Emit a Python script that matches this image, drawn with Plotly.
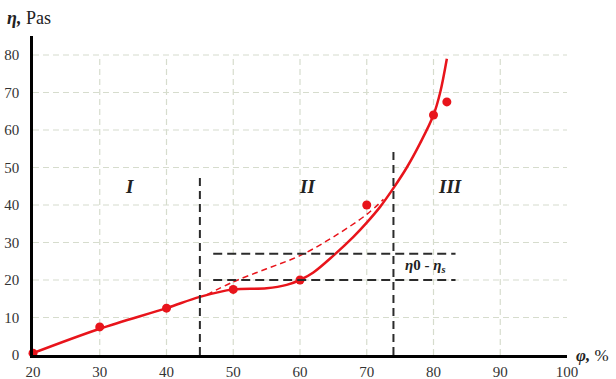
import plotly.graph_objects as go

# measured points
phi_pts = [20, 30, 40, 50, 60, 70, 80, 82]
eta_pts = [0.5, 7.5, 12.5, 17.5, 20, 40, 64, 67.5]

# solid fitted curve
curve_phi = [20, 30, 40, 45, 50, 55, 58, 60, 62, 65, 68, 70, 72, 74, 76, 78, 80, 81, 82]
curve_eta = [0.5, 7, 12.5, 15.5, 17.5, 17.8, 18.7, 20, 22, 26.5, 31.5, 35.3, 39.5, 44.5, 50, 56.5, 64, 70, 79]

# dashed extrapolation
dash_phi = [46, 50, 55, 60, 65, 70, 72.5]
dash_eta = [16, 19.5, 23, 26.5, 31.5, 37.5, 41.5]

# region boundaries and levels
bound_phi = [45, 74]
bound_top = [48, 55]
level_eta = [20, 27]
level_phi = [47, 83.3]

x_ticks = [20, 30, 40, 50, 60, 70, 80, 90, 100]
y_ticks = [0, 10, 20, 30, 40, 50, 60, 70, 80]

region_labels = ["I", "II", "III"]
region_phi = [34.5, 61, 82.5]
region_eta = [45, 45, 45]

RED = "#e8141b"
GRID = "#d6dccd"
DARK = "#2b2b2b"
SERIF = "Liberation Serif, Times New Roman, serif"

fig = go.Figure()

shapes = []
for xv in x_ticks[1:-1]:
    shapes.append(dict(type="line", x0=xv, x1=xv, y0=0, y1=y_ticks[-1], xref="x", yref="y",
                       line=dict(color=GRID, width=1.2, dash="6px,4px"), layer="below"))
for yv in y_ticks[1:]:
    shapes.append(dict(type="line", x0=x_ticks[0], x1=x_ticks[-1], y0=yv, y1=yv, xref="x", yref="y",
                       line=dict(color=GRID, width=1.2, dash="6px,4px"), layer="below"))
for bx, bt in zip(bound_phi, bound_top):
    shapes.append(dict(type="line", x0=bx, x1=bx, y0=0, y1=bt, xref="x", yref="y",
                       line=dict(color=DARK, width=2, dash="8px,5px")))
for ly in level_eta:
    shapes.append(dict(type="line", x0=level_phi[0], x1=level_phi[1], y0=ly, y1=ly, xref="x", yref="y",
                       line=dict(color=DARK, width=2, dash="9px,5px")))

fig.add_trace(go.Scatter(x=dash_phi, y=dash_eta, mode="lines",
                         line=dict(color=RED, width=1.5, dash="6px,4px", shape="spline"),
                         hoverinfo="skip", showlegend=False))
fig.add_trace(go.Scatter(x=curve_phi, y=curve_eta, mode="lines",
                         line=dict(color=RED, width=2.5, shape="spline", smoothing=1),
                         showlegend=False))
fig.add_trace(go.Scatter(x=phi_pts, y=eta_pts, mode="markers",
                         marker=dict(color=RED, size=9), showlegend=False, cliponaxis=False))

W, H = 616, 379
L, R, T, B = 33, 49, 36, 24
pw, ph = W - L - R, H - T - B

annotations = []
for t, xv, yv in zip(region_labels, region_phi, region_eta):
    annotations.append(dict(x=xv, y=yv, xref="x", yref="y", text="<b><i>%s</i></b>" % t,
                            showarrow=False, font=dict(family=SERIF, size=19, color="#222")))
annotations.append(dict(x=78.8, y=23.8, xref="x", yref="y",
                        text="<b><i>η</i>0 - <i>η<sub>s</sub></i></b>", showarrow=False,
                        font=dict(family=SERIF, size=15, color="#222")))
annotations.append(dict(x=(5 - L) / pw, y=(H - B - 18) / ph, xref="paper", yref="paper",
                        text="<b><i>η,</i></b> Pas", showarrow=False,
                        xanchor="left", yanchor="middle",
                        font=dict(family=SERIF, size=18, color="#222")))
annotations.append(dict(x=(574 - L) / pw, y=(H - B - 355) / ph, xref="paper", yref="paper",
                        text="<b><i>φ,</i></b> %", showarrow=False,
                        xanchor="left", yanchor="middle",
                        font=dict(family=SERIF, size=17, color="#222")))

fig.update_layout(
    width=W, height=H,
    margin=dict(l=L, r=R, t=T, b=B, autoexpand=False),
    plot_bgcolor="white", paper_bgcolor="white",
    font=dict(family=SERIF),
    shapes=shapes, annotations=annotations,
    xaxis=dict(range=[20, 100], tickvals=x_ticks, showgrid=False, zeroline=False,
               showline=True, linecolor="black", linewidth=2.5, ticks="", automargin=False,
               tickfont=dict(family=SERIF, size=15, color="#333"), ticklabelstandoff=1),
    yaxis=dict(range=[0, 85.07], tickvals=y_ticks, showgrid=False, zeroline=False,
               showline=True, linecolor="black", linewidth=2.5, ticks="", automargin=False,
               tickfont=dict(family=SERIF, size=15, color="#333"), ticklabelstandoff=8),
)

fig.write_html("out.html", config={"displayModeBar": False},
               post_script="document.body.style.margin='0';document.body.style.padding='0';"
                           "document.body.style.overflow='hidden';")
